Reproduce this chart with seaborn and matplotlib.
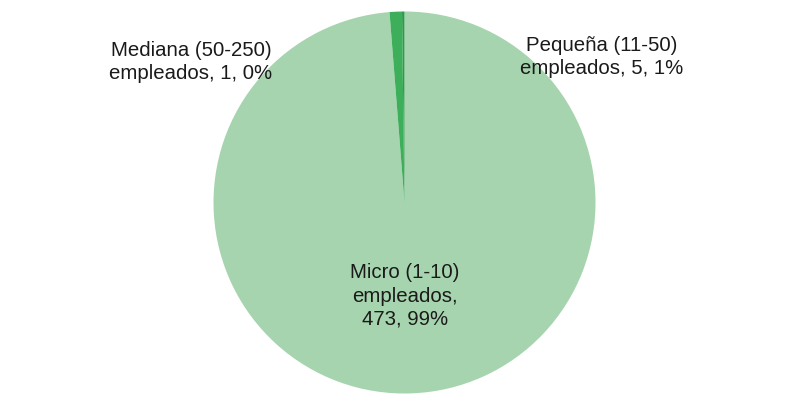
import numpy as np
import matplotlib.pyplot as plt
import seaborn as sns

# data
categories = ['Micro (1-10)\nempleados,', 'Pequeña (11-50)\nempleados,', 'Mediana (50-250)\nempleados,']
counts = [473, 5, 1]
pcts = ['99%', '1%', '0%']
colors = ['#a6d4ae', '#3daf5a', '#2f9a4c']

sns.set_theme(style='white')
plt.rcParams['font.family'] = ['Liberation Sans', 'DejaVu Sans']

fig = plt.figure(figsize=(7.86, 4.18), dpi=100)
ax = fig.add_axes([0, 0, 1, 1])

R = 191.0
cx, cy = 404.5, 202.5

ax.pie(counts, colors=colors, startangle=90, counterclock=False,
       radius=1.0, wedgeprops={'linewidth': 0})

ax.set_xlim(-cx / R, (786 - cx) / R)
ax.set_ylim(-(418 - cy) / R, cy / R)
ax.set_aspect('equal')
ax.axis('off')

def px(x, y):
    return (x - cx) / R, (cy - y) / R

# label texts
lab_micro = f'{categories[0]}\n{counts[0]}, {pcts[0]}'
lab_peq = f'{categories[1]} {counts[1]}, {pcts[1]}'
lab_med = f'{categories[2]} {counts[2]}, {pcts[2]}'

kw = dict(fontsize=14.7, color='#1a1a1a', linespacing=1.27)
ax.text(*px(405, 296), lab_micro, ha='center', va='center', **kw)
ax.text(*px(602, 57), lab_peq, ha='center', va='center', **kw)
ax.text(*px(191, 62), lab_med, ha='center', va='center', **kw)

fig.savefig('out.png', dpi=100)
